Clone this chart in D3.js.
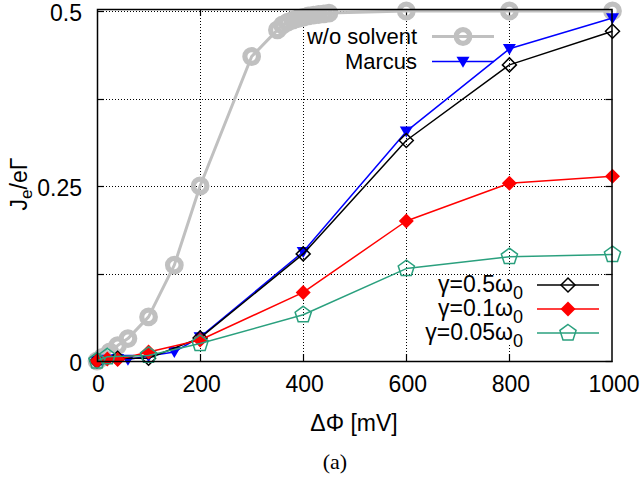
<!DOCTYPE html>
<html><head><meta charset="utf-8">
<script src="https://cdn.jsdelivr.net/npm/d3@7"></script>
<style>body{margin:0;background:#fff}svg{display:block}</style>
</head><body>
<svg id="c" width="642" height="487"></svg>
<script>
// ---- data ----
const xTicks = [0, 200, 400, 600, 800, 1000];
const yTicks = [0, 0.25, 0.5];
const yTickLabels = ["0", "0.25", "0.5"];
const yGrid = [0.125, 0.25, 0.375, 0.5];
const xGrid = [200, 400, 600, 800];

const woX = [0,10,25,40,60,100,150,200,300,350,360,370,380,390,400,410,420,430,440,450,600,800,1000];
const woY = [0,0.005,0.013,0.022,0.032,0.063,0.137,0.25,0.435,0.473,0.48,0.484,0.487,0.489,0.491,0.493,0.494,0.495,0.496,0.497,0.5,0.5,0.5];

const marcusX = [0,10,20,40,60,100,150,200,400,600,800,1000];
const marcusY = [0,0.001,0.002,0.003,0.002,0.007,0.013,0.034,0.156,0.328,0.446,0.49];

const g05X = [0,40,100,200,400,600,800,1000];
const g05Y = [0,0.004,0.004,0.033,0.153,0.315,0.423,0.471];

const g01X = [0,20,40,100,200,400,600,800,1000];
const g01Y = [0,0.003,0.002,0.013,0.03,0.098,0.2,0.254,0.264];

const g005X = [0,20,100,200,400,600,800,1000];
const g005Y = [0,0.006,0.008,0.025,0.066,0.132,0.149,0.152];

// ---- layout ----
const svg = d3.select("#c");
const L = 97, R = 612.5, B = 361, T = 9;
const x = d3.scaleLinear().domain([0, 1000]).range([L, R]);
const y = d3.scaleLinear().domain([0, 0.5]).range([B, 11]);
const font = "'Liberation Sans', Arial, Helvetica, sans-serif";

// grid
const grid = svg.append("g").attr("stroke", "#000").attr("stroke-width", 1).attr("stroke-dasharray", "1,2");
grid.selectAll("line.v").data(xGrid).enter().append("line")
  .attr("x1", d => Math.round(x(d)) + 0.5).attr("x2", d => Math.round(x(d)) + 0.5)
  .attr("y1", T).attr("y2", B);
grid.selectAll("line.h").data(yGrid).enter().append("line")
  .attr("y1", d => Math.round(y(d)) + 0.5).attr("y2", d => Math.round(y(d)) + 0.5)
  .attr("x1", L).attr("x2", R);

// ticks (inner)
const tk = svg.append("g").attr("stroke", "#000").attr("stroke-width", 1.2);
yGrid.concat([0]).forEach(v => {
  const yy = Math.round(y(v)) + 0.5;
  tk.append("line").attr("x1", L).attr("x2", L + 7).attr("y1", yy).attr("y2", yy);
  tk.append("line").attr("x1", R).attr("x2", R - 7).attr("y1", yy).attr("y2", yy);
});
xGrid.forEach(v => {
  const xx = Math.round(x(v)) + 0.5;
  tk.append("line").attr("y1", B).attr("y2", B - 7).attr("x1", xx).attr("x2", xx);
  tk.append("line").attr("y1", T).attr("y2", T + 7).attr("x1", xx).attr("x2", xx);
});

// tick labels via axes
const xAxis = d3.axisBottom(x).tickValues(xTicks).tickSize(0).tickPadding(0).tickFormat(d3.format("d"));
const gx = svg.append("g").attr("transform", `translate(0,${B})`).call(xAxis);
gx.select(".domain").remove();
gx.selectAll("text").attr("font-family", font).attr("font-size", 23).attr("fill", "#000")
  .attr("y", 31).attr("dy", 0).attr("x", 1);

const yAxis = d3.axisLeft(y).tickValues(yTicks).tickSize(0).tickPadding(0)
  .tickFormat((d, i) => yTickLabels[i]);
const gy = svg.append("g").attr("transform", `translate(${L},0)`).call(yAxis);
gy.select(".domain").remove();
gy.selectAll("text").attr("font-family", font).attr("font-size", 23).attr("fill", "#000")
  .attr("x", -15).attr("dy", 9);

// markers
function diamond(s) { return `M0,${-s}L${s},0L0,${s}L${-s},0Z`; }
function triDown(s) { return `M${-s},${-s*0.75}L${s},${-s*0.75}L0,${s*0.95}Z`; }
function pentagon(r) {
  const p = d3.range(5).map(i => { const a = -Math.PI/2 + i*2*Math.PI/5; return [r*Math.cos(a), r*Math.sin(a)]; });
  return "M" + p.map(q => q[0].toFixed(2) + "," + q[1].toFixed(2)).join("L") + "Z";
}

const series = [
  {xs: woX, ys: woY, color: "#c0c0c0", lw: 3, kind: "circle"},
  {xs: marcusX, ys: marcusY, color: "#0000ff", lw: 1.5, kind: "tri"},
  {xs: g05X, ys: g05Y, color: "#000000", lw: 1.5, kind: "odiam"},
  {xs: g01X, ys: g01Y, color: "#ff0000", lw: 1.5, kind: "fdiam"},
  {xs: g005X, ys: g005Y, color: "#2aa07e", lw: 1.5, kind: "pent"}
];

function drawMarker(g, kind, color, cx, cy) {
  if (kind === "circle") {
    g.append("circle").attr("cx", cx).attr("cy", cy).attr("r", 6.8)
      .attr("fill", "none").attr("stroke", color).attr("stroke-width", 5.2);
  } else if (kind === "tri") {
    g.append("path").attr("d", triDown(6.5)).attr("transform", `translate(${cx},${cy})`).attr("fill", color);
  } else if (kind === "odiam") {
    g.append("path").attr("d", diamond(7)).attr("transform", `translate(${cx},${cy})`)
      .attr("fill", "none").attr("stroke", color).attr("stroke-width", 1.5);
  } else if (kind === "fdiam") {
    g.append("path").attr("d", diamond(7.5)).attr("transform", `translate(${cx},${cy})`).attr("fill", color);
  } else if (kind === "pent") {
    g.append("path").attr("d", pentagon(8.5)).attr("transform", `translate(${cx},${cy})`)
      .attr("fill", "none").attr("stroke", color).attr("stroke-width", 1.5);
  }
}

const line = d3.line().x(d => x(d[0])).y(d => y(d[1]));
series.forEach(s => {
  const pts = s.xs.map((v, i) => [v, s.ys[i]]);
  const g = svg.append("g");
  g.append("path").attr("d", line(pts)).attr("fill", "none").attr("stroke", s.color)
    .attr("stroke-width", s.lw).attr("stroke-linejoin", "round");
  pts.forEach(p => drawMarker(g, s.kind, s.color, x(p[0]), y(p[1])));
});

// frame
svg.append("rect").attr("x", L + 0.5).attr("y", T + 0.5).attr("width", R - L - 1).attr("height", B - T)
  .attr("fill", "none").attr("stroke", "#000").attr("stroke-width", 1.5);

// legends
const legTop = [
  {label: "w/o solvent", color: "#c0c0c0", lw: 3, kind: "circle", row: 36.5},
  {label: "Marcus", color: "#0000ff", lw: 1.5, kind: "tri", row: 61.5}
];
legTop.forEach(l => {
  svg.append("text").attr("x", 417).attr("y", l.row + 7.5).attr("text-anchor", "end")
    .attr("font-family", font).attr("font-size", 22).attr("fill", "#000").text(l.label);
  svg.append("line").attr("x1", 432).attr("x2", 494).attr("y1", l.row).attr("y2", l.row)
    .attr("stroke", l.color).attr("stroke-width", l.lw);
  drawMarker(svg, l.kind, l.color, 463, l.row);
});

svg.append("rect").attr("x", 420).attr("y", 276).attr("width", 191).attr("height", 67).attr("fill", "#fff");
const legBot = [
  {label: "γ=0.5ω", color: "#000000", kind: "odiam", row: 285},
  {label: "γ=0.1ω", color: "#ff0000", kind: "fdiam", row: 309},
  {label: "γ=0.05ω", color: "#2aa07e", kind: "pent", row: 333}
];
legBot.forEach(l => {
  const t = svg.append("text").attr("x", 523).attr("y", l.row + 7).attr("text-anchor", "end")
    .attr("font-family", font).attr("font-size", 23).attr("fill", "#000");
  t.append("tspan").text(l.label);
  t.append("tspan").attr("font-size", 18).attr("dy", 7).text("0");
  svg.append("line").attr("x1", 537).attr("x2", 599).attr("y1", l.row).attr("y2", l.row)
    .attr("stroke", l.color).attr("stroke-width", 1.5);
  drawMarker(svg, l.kind, l.color, 568, l.row);
});

// axis titles
svg.append("text").attr("x", 354).attr("y", 431).attr("text-anchor", "middle")
  .attr("font-family", font).attr("font-size", 23).attr("fill", "#000").text("ΔΦ [mV]");

const yl = svg.append("text").attr("transform", "translate(27,184) rotate(-90)").attr("text-anchor", "middle")
  .attr("font-family", font).attr("font-size", 23).attr("fill", "#000");
yl.append("tspan").text("J");
yl.append("tspan").attr("font-size", 17).attr("dy", 5).text("e");
yl.append("tspan").attr("dy", -5).text("/eΓ");

svg.append("text").attr("x", 335).attr("y", 469).attr("text-anchor", "middle")
  .attr("font-family", "'Liberation Serif', 'DejaVu Serif', serif").attr("font-size", 22).attr("fill", "#000").text("(a)");
</script>
</body></html>
